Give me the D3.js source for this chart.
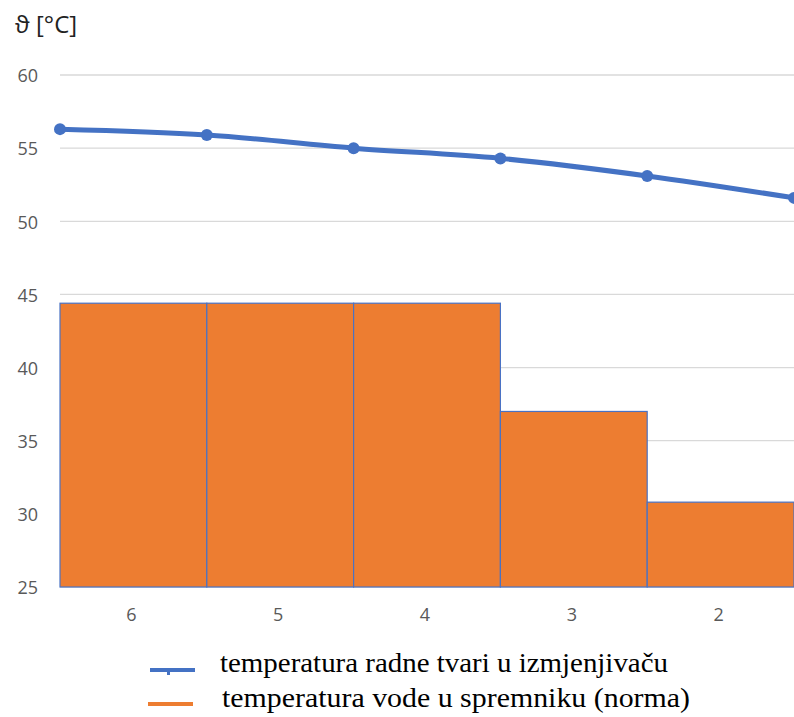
<!DOCTYPE html>
<html>
<head>
<meta charset="utf-8">
<script src="https://cdn.jsdelivr.net/npm/d3@7"></script>
<style>
  body { margin: 0; background: #fff; }
  svg { display: block; }
</style>
</head>
<body>
<div id="chart"></div>
<script>
// data
var categories = ["6", "5", "4", "3", "2"];
var waterTemp = [44.4, 44.4, 44.4, 37.0, 30.8];          // bars
var fluidTemp = [56.3, 55.9, 55.0, 54.3, 53.1, 51.6];     // line, on bar edges
var yTicks = [25, 30, 35, 40, 45, 50, 55, 60];
var seriesNames = ["temperatura radne tvari u izmjenjivaču", "temperatura vode u spremniku (norma)"];

(function () {
    var width = 794, height = 717;
    var plot = { left: 60, right: 794, top: 75, bottom: 587 };

    var svg = d3.select("#chart").append("svg")
        .attr("width", width)
        .attr("height", height);

    var y = d3.scaleLinear().domain([25, 60]).range([plot.bottom, plot.top]);
    var x = d3.scaleBand().domain(categories).range([plot.left, plot.right]).padding(0);
    var xEdge = d3.scaleLinear().domain([0, categories.length]).range([plot.left, plot.right]);

    // gridlines
    svg.append("g")
        .selectAll("line")
        .data(yTicks)
        .enter().append("line")
        .attr("x1", plot.left).attr("x2", plot.right)
        .attr("y1", d => y(d)).attr("y2", d => y(d))
        .attr("stroke", "#d9d9d9")
        .attr("stroke-width", 1.3);

    // y axis labels
    var yAxis = d3.axisLeft(y).tickValues(yTicks).tickSize(0).tickPadding(0);
    var gy = svg.append("g").attr("transform", "translate(38,1)").call(yAxis);
    gy.select(".domain").remove();
    gy.selectAll("text")
        .attr("fill", "#595959")
        .style("font-family", "'Open Sans', 'DejaVu Sans', sans-serif")
        .style("font-size", "18px");

    // bars
    svg.append("g")
        .selectAll("rect")
        .data(waterTemp)
        .enter().append("rect")
        .attr("x", (d, i) => x(categories[i]))
        .attr("y", d => y(d))
        .attr("width", x.bandwidth())
        .attr("height", d => y(25) - y(d))
        .attr("fill", "#ed7d31")
        .attr("stroke", "#4a72c4")
        .attr("stroke-width", 1.2);

    // x axis labels
    var xAxis = d3.axisBottom(x).tickSize(0).tickPadding(0);
    var gx = svg.append("g").attr("transform", "translate(-2,621)").call(xAxis);
    gx.select(".domain").remove();
    gx.selectAll("text")
        .attr("y", 0)
        .attr("dy", 0)
        .attr("fill", "#595959")
        .style("font-family", "'Open Sans', 'DejaVu Sans', sans-serif")
        .style("font-size", "18px");

    // line
    var line = d3.line()
        .x((d, i) => xEdge(i))
        .y(d => y(d))
        .curve(d3.curveCatmullRom.alpha(0.5));

    svg.append("path")
        .datum(fluidTemp)
        .attr("d", line)
        .attr("fill", "none")
        .attr("stroke", "#4472c4")
        .attr("stroke-width", 5)
        .attr("stroke-linecap", "round");

    svg.append("g")
        .selectAll("circle")
        .data(fluidTemp)
        .enter().append("circle")
        .attr("cx", (d, i) => xEdge(i))
        .attr("cy", d => y(d))
        .attr("r", 6)
        .attr("fill", "#4472c4");

    // axis title
    svg.append("text")
        .attr("x", 15).attr("y", 33)
        .attr("fill", "#222")
        .style("font-family", "'Open Sans', 'DejaVu Sans', sans-serif")
        .style("font-size", "24px")
        .text("ϑ [°C]");

    // legend
    var legend = svg.append("g");
    legend.append("line")
        .attr("x1", 150).attr("x2", 195)
        .attr("y1", 670).attr("y2", 670)
        .attr("stroke", "#4472c4").attr("stroke-width", 4);
    legend.append("rect")
        .attr("x", 167).attr("y", 670).attr("width", 3).attr("height", 5)
        .attr("fill", "#4472c4");
    legend.append("line")
        .attr("x1", 148).attr("x2", 193)
        .attr("y1", 704).attr("y2", 704)
        .attr("stroke", "#ed7d31").attr("stroke-width", 4);

    var legendWidths = [448, 468];
    legend.selectAll("text")
        .data(seriesNames)
        .enter().append("text")
        .attr("x", (d, i) => i === 0 ? 220 : 222)
        .attr("y", (d, i) => 672 + i * 35)
        .attr("fill", "#000")
        .attr("textLength", (d, i) => legendWidths[i])
        .attr("lengthAdjust", "spacingAndGlyphs")
        .style("font-family", "'Liberation Serif', 'Times New Roman', serif")
        .style("font-size", "27px")
        .text(d => d);
})();
</script>
</body>
</html>
